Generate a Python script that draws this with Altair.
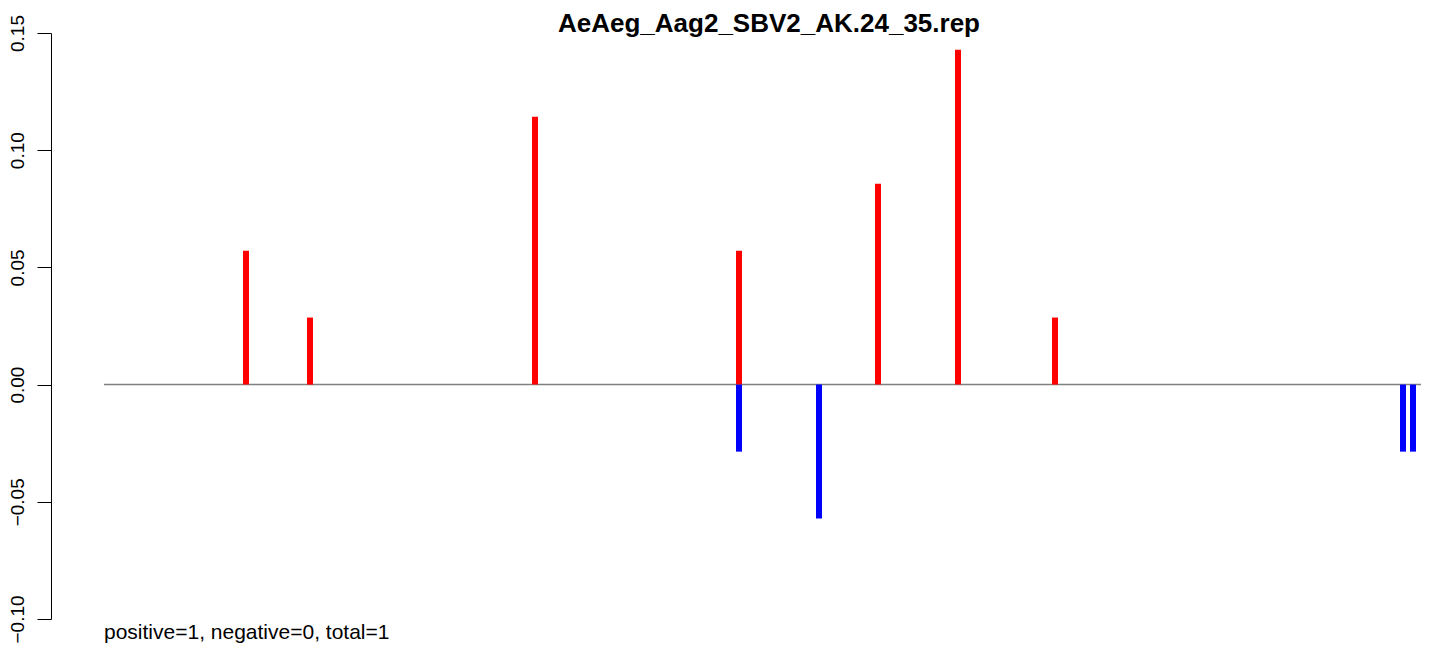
import altair as alt
import pandas as pd

# data (positions along the sequence, values = fraction of reads)
pos_x = [142, 206, 431, 635, 774, 854, 951]
pos_y = [0.0571, 0.0286, 0.1143, 0.0571, 0.0857, 0.1429, 0.0286]
neg_x = [635, 715, 1299, 1309]
neg_y = [-0.0286, -0.0571, -0.0286, -0.0286]
x_start, x_end = 0, 1330
y_ticks = [-0.10, -0.05, 0.00, 0.05, 0.10, 0.15]
title_text = "AeAeg_Aag2_SBV2_AK.24_35.rep"
note_text = "positive=1, negative=0, total=1"

FONT = "Liberation Sans"

bars = pd.DataFrame({
    "x": pos_x + neg_x,
    "y": pos_y + neg_y,
    "strand": ["pos"] * len(pos_x) + ["neg"] * len(neg_x),
})
bars["y0"] = 0.0
zero = pd.DataFrame({"x": [x_start], "x2": [x_end], "y": [0.0]})

xscale = alt.Scale(domain=[-53, 1317], nice=False, zero=False)
yscale = alt.Scale(domain=[-0.10, 0.15], nice=False, zero=False)

yaxis = alt.Axis(
    values=y_ticks, format=".2f", title=None, grid=False,
    labelAngle=270, labelAlign="center", labelBaseline="alphabetic",
    labelFont=FONT, labelFontSize=19, labelColor="black", labelPadding=14,
    labelOverlap=False, labelFlush=False,
    tickSize=14, tickColor="black", tickWidth=1,
    domainColor="black", domainWidth=1,
)

zero_line = alt.Chart(zero).mark_rule(color="#808080", strokeWidth=1.5, clip=True).encode(
    x=alt.X("x:Q", scale=xscale, axis=None),
    x2="x2:Q",
    y=alt.Y("y:Q", scale=yscale, axis=yaxis),
)

spikes = alt.Chart(bars).mark_rule(strokeWidth=6, strokeCap="butt").encode(
    x=alt.X("x:Q", scale=xscale, axis=None),
    y=alt.Y("y0:Q", scale=yscale, axis=yaxis),
    y2="y:Q",
    color=alt.Color("strand:N", scale=alt.Scale(domain=["pos", "neg"], range=["#FF0000", "#0000FF"]), legend=None),
)

title = alt.Chart(pd.DataFrame({"t": [title_text]})).mark_text(
    font=FONT, fontSize=26, fontWeight="bold", align="center", baseline="alphabetic", color="black"
).encode(x=alt.value(718), y=alt.value(-1), text="t:N")

note = alt.Chart(pd.DataFrame({"t": [note_text]})).mark_text(
    font=FONT, fontSize=21, align="left", baseline="alphabetic", color="black"
).encode(x=alt.value(53), y=alt.value(606), text="t:N")

chart = alt.layer(zero_line, spikes, title, note).properties(
    width=1370, height=586,
    autosize=alt.AutoSizeParams(type="none"),
    padding={"left": 43, "top": 25, "right": 0, "bottom": 24},
).configure(background="white", view=alt.ViewConfig(stroke=None))

chart.save("out.html", embed_options={"renderer": "svg", "actions": False})
